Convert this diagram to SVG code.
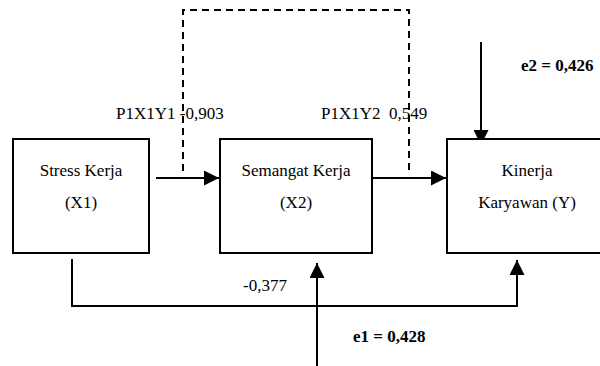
<svg xmlns="http://www.w3.org/2000/svg" width="600" height="366" viewBox="0 0 600 366">
<style>
.box{fill:#fff;stroke:#000;stroke-width:2}
.ln{fill:none;stroke:#000;stroke-width:2}
.dash{fill:none;stroke:#000;stroke-width:2;stroke-dasharray:7,5}
text{font-family:'Liberation Serif','Times New Roman',serif;font-size:17px;fill:#000;white-space:pre}
.c{text-anchor:middle}
.b{font-weight:bold}
</style>
<defs>
<marker id="ah" viewBox="0 0 10 10" refX="10" refY="5" markerWidth="15" markerHeight="15" markerUnits="userSpaceOnUse" orient="auto">
<path d="M0,0 L10,5 L0,10 Z" fill="#000"/>
</marker>
</defs>
<rect width="600" height="366" fill="#fff"/>
<g id="connectors">
<path class="dash" d="M183,171 V10 H409 V171"/>
<line class="ln" x1="156" y1="178" x2="219" y2="178" marker-end="url(#ah)"/>
<line class="ln" x1="372" y1="178" x2="446" y2="178" marker-end="url(#ah)"/>
<line class="ln" x1="481" y1="42" x2="481" y2="145" marker-end="url(#ah)"/>
<path class="ln" d="M72,259 V306 H517 V260" marker-end="url(#ah)"/>
<line class="ln" x1="317" y1="366" x2="317" y2="263" marker-end="url(#ah)"/>
</g>
<g id="x1">
<rect class="box" x="13" y="139" width="136" height="114"/>
<text class="c" x="81" y="176">Stress Kerja</text>
<text class="c" x="81" y="208">(X1)</text>
</g>
<g id="x2">
<rect class="box" x="220" y="139" width="152" height="114"/>
<text class="c" x="296" y="176">Semangat Kerja</text>
<text class="c" x="296" y="208">(X2)</text>
</g>
<g id="y">
<rect class="box" x="447" y="139" width="162" height="114"/>
<text class="c" x="527" y="176">Kinerja</text>
<text class="c" x="527" y="208">Karyawan (Y)</text>
</g>
<g id="labels">
<text x="116" y="119">P1X1Y1 -0,903</text>
<text x="321" y="119" xml:space="preserve">P1X1Y2  0,549</text>
<text x="243" y="291">-0,377</text>
<text class="b" x="521" y="71">e2 = 0,426</text>
<text class="b" x="353" y="342">e1 = 0,428</text>
</g>
</svg>
